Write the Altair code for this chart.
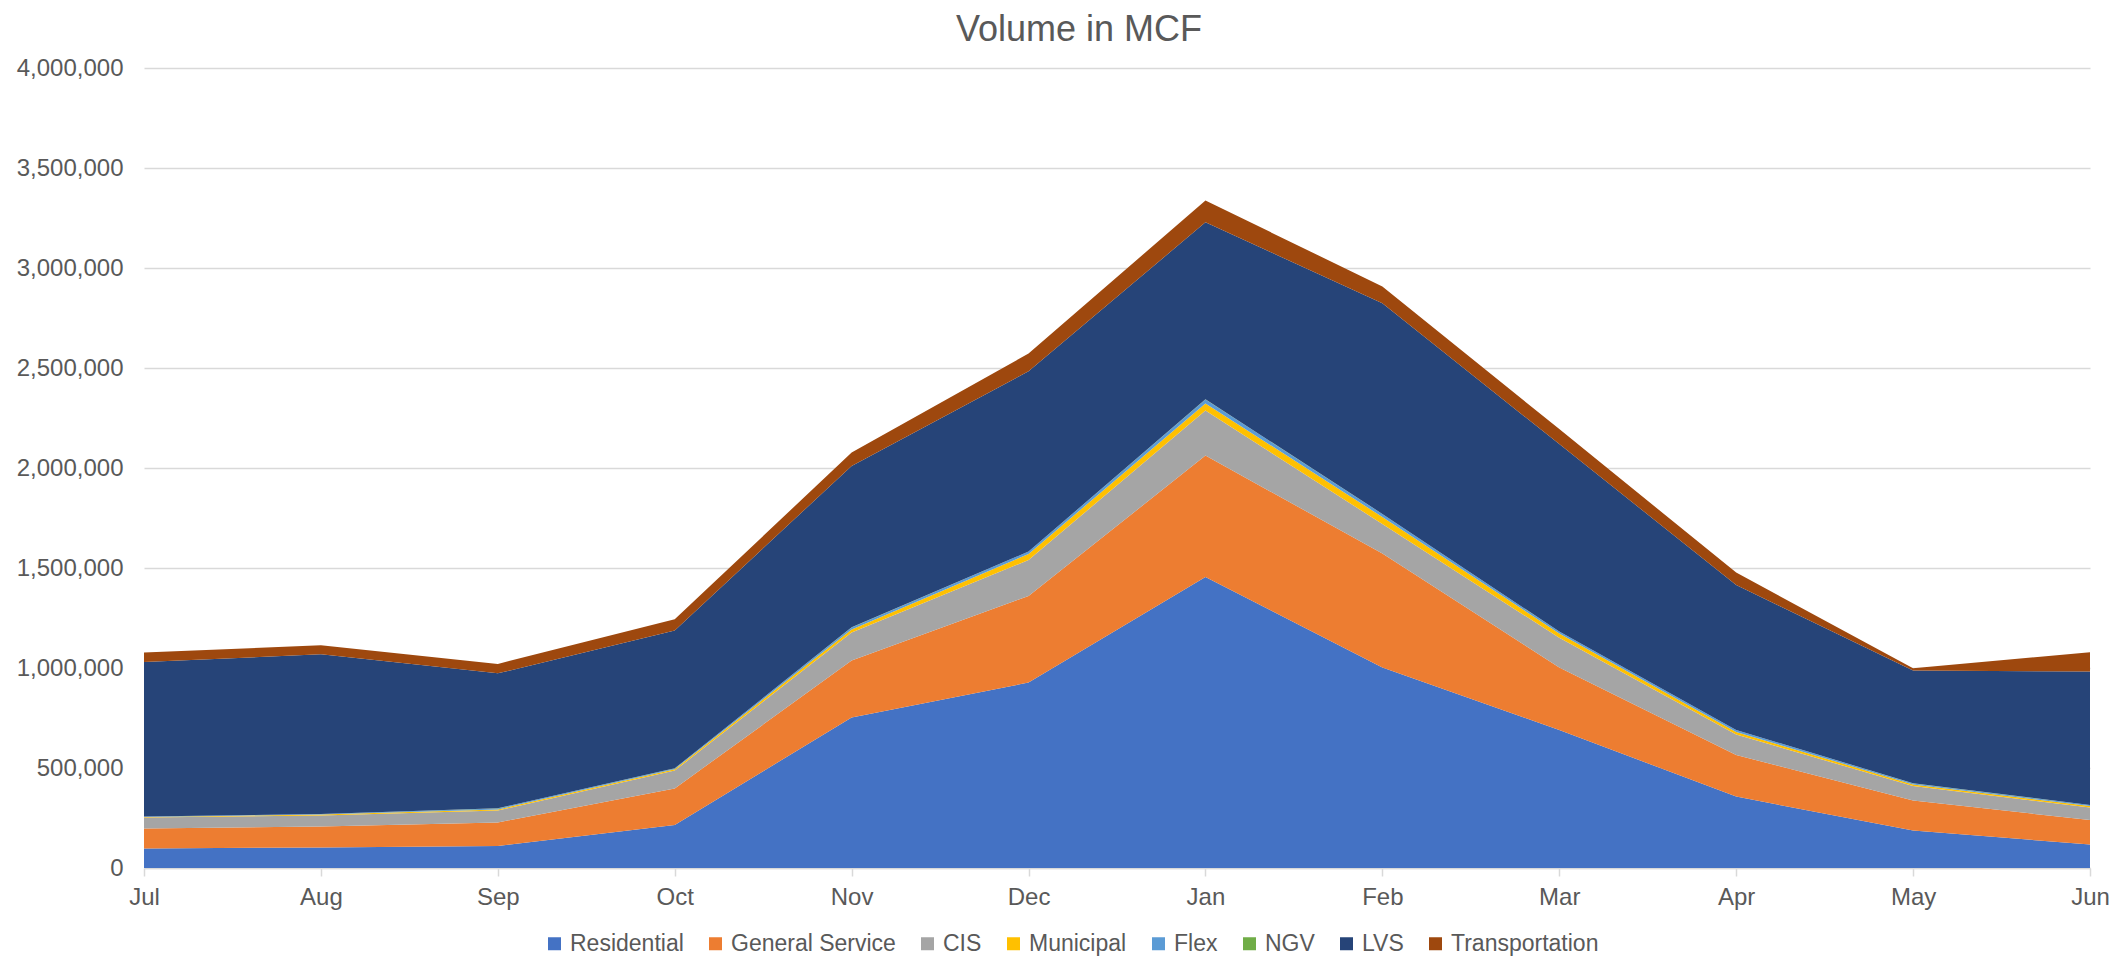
import altair as alt
import pandas as pd

months = ["Jul", "Aug", "Sep", "Oct", "Nov", "Dec", "Jan", "Feb", "Mar", "Apr", "May", "Jun"]
series = ["Residential", "General Service", "CIS", "Municipal", "Flex", "NGV", "LVS", "Transportation"]
colors = ["#4472C4", "#ED7D31", "#A5A5A5", "#FFC000", "#5B9BD5", "#70AD47", "#264478", "#9E480E"]
title_text = ["Volume in MCF"]

residential = [97000, 103000, 110000, 215000, 753000, 927000, 1455000, 1003000, 690000, 357000, 187000, 118000]
general_service = [101000, 105000, 118000, 183000, 284000, 433000, 607000, 570000, 313000, 208000, 150000, 122000]
cis = [54000, 55000, 59000, 89000, 140000, 180000, 225000, 147000, 148000, 102000, 73000, 62000]
municipal = [3000, 4000, 6000, 7000, 16000, 30000, 36000, 35000, 22000, 13000, 8000, 8000]
flex = [2000, 3000, 5000, 4000, 10000, 12000, 20000, 15000, 9000, 10000, 5000, 5000]
ngv = [300, 300, 300, 300, 400, 400, 500, 400, 400, 300, 300, 300]
lvs = [773000, 798000, 675000, 689000, 807000, 901000, 885000, 1053000, 937000, 725000, 564000, 667000]
transportation = [47000, 45000, 47000, 56000, 67000, 89000, 109000, 84000, 75000, 62000, 12000, 96000]

values = [residential, general_service, cis, municipal, flex, ngv, lvs, transportation]

rows = []
for si, (name, vals) in enumerate(zip(series, values)):
    for m, v in zip(months, vals):
        rows.append({"month": m, "series": name, "value": v, "k": si})
df = pd.DataFrame(rows)

FONT = "Liberation Sans"
GREY = "#595959"

areas = alt.Chart(df).mark_area(opacity=1).encode(
    x=alt.X("month:N", sort=months,
            scale=alt.Scale(type="point", padding=0),
            axis=alt.Axis(title=None, labelAngle=0, labelFontSize=24, labelColor=GREY,
                          labelFont=FONT, domainColor="#D9D9D9", domainWidth=1.5,
                          ticks=True, tickColor="#D9D9D9", tickSize=8, tickWidth=1.5,
                          labelPadding=9, grid=False)),
    y=alt.Y("value:Q", stack="zero",
            scale=alt.Scale(domain=[0, 4000000], nice=False),
            axis=alt.Axis(title=None, format=",d", values=list(range(0, 4000001, 500000)),
                          labelFontSize=24, labelColor=GREY, labelFont=FONT,
                          domain=False, ticks=False, labelPadding=21,
                          grid=True, gridColor="#D9D9D9", gridWidth=1.5)),
    color=alt.Color("series:N", scale=alt.Scale(domain=series, range=colors),
                    legend=alt.Legend(title=None, orient="none", direction="horizontal",
                                      legendX=399, legendY=864,
                                      symbolType="square", symbolSize=169,
                                      symbolStrokeWidth=0, labelFontSize=23,
                                      labelFont=FONT, labelColor=GREY, labelLimit=0,
                                      labelOffset=4, columnPadding=20)),
    order=alt.Order("k:Q", sort="ascending"),
)

title = alt.Chart(pd.DataFrame({"t": title_text})).mark_text(
    fontSize=36, color=GREY, font=FONT, align="center", baseline="alphabetic"
).encode(text="t:N", x=alt.value(935), y=alt.value(-27))

chart = alt.layer(areas, title).properties(
    width=1946,
    height=800,
    padding={"left": 136, "top": 60, "right": 30, "bottom": 88},
    autosize=alt.AutoSizeParams(type="none"),
).configure_view(stroke=None)

chart.save("out.html", embed_options={"renderer": "svg", "actions": False})
